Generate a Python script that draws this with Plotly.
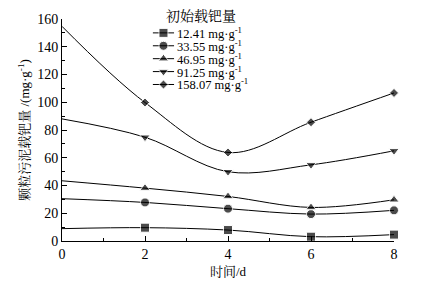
import plotly.graph_objects as go

days = [0, 2, 4, 6, 8]
series_names = ["12.41", "33.55", "46.95", "91.25", "158.07"]
s_12_41 = [8.9, 9.6, 7.9, 3.1, 4.6]
s_33_55 = [30.5, 27.8, 23.3, 19.4, 22.1]
s_46_95 = [43.4, 38.1, 32.1, 24.2, 29.7]
s_91_25 = [88.0, 74.8, 49.9, 54.9, 65.0]
s_158_07 = [154.7, 99.8, 63.8, 85.6, 106.7]
all_series = [s_12_41, s_33_55, s_46_95, s_91_25, s_158_07]
symbols = ["square", "circle", "triangle-up", "triangle-down", "diamond"]
sizes = [9, 9, 9, 9, 7]
legend_title = "初始载钯量"
unit = " mg·g<sup>-1</sup>"

FONT = "'Liberation Serif', 'Noto Serif CJK SC', 'Noto Sans CJK SC', serif"

fig = go.Figure()
for name, vals, sym, sz in zip(series_names, all_series, symbols, sizes):
    fig.add_trace(go.Scatter(
        x=days, y=vals, mode="lines+markers", name=name + unit,
        line=dict(color="black", width=1, shape="spline", smoothing=1),
        marker=dict(symbol=sym, size=[0] + [sz] * (len(days) - 1), color="black"),
        cliponaxis=False, showlegend=False,
    ))

# compact legend drawn inside the plot (key samples placed in axis units)
leg_rows = [150.0, 140.7, 131.4, 122.1, 112.8]
leg_x0, leg_x1 = 2.19, 2.70
for name, sym, sz, yy in zip(series_names, symbols, sizes, leg_rows):
    fig.add_trace(go.Scatter(
        x=[leg_x0, (leg_x0 + leg_x1) / 2, leg_x1], y=[yy, yy, yy], mode="lines+markers",
        showlegend=False, hoverinfo="skip",
        line=dict(color="black", width=1),
        marker=dict(symbol=sym, size=[0, sz, 0], color="black"),
        cliponaxis=False,
    ))
    fig.add_annotation(x=leg_x1 + 0.03, y=yy, xref="x", yref="y", text=name + unit,
                       showarrow=False, xanchor="left", yanchor="middle",
                       font=dict(family=FONT, size=12.5, color="black"))
fig.add_annotation(x=0.419, y=1.013, xref="paper", yref="paper", text=legend_title,
                   showarrow=False, xanchor="center", yanchor="middle",
                   font=dict(family=FONT, size=14, color="black"))

fig.update_layout(
    width=424, height=285,
    margin=dict(l=62, r=30, t=19, b=44),
    paper_bgcolor="white", plot_bgcolor="white",
    font=dict(family=FONT, size=13, color="black"),
    xaxis=dict(range=[0, 8], tickvals=[0, 2, 4, 6, 8], showline=True, linecolor="black",
               linewidth=1, ticks="inside", ticklen=5, tickcolor="black", showgrid=False,
               zeroline=False, automargin=False,
               minor=dict(dtick=1, ticks="inside", ticklen=3, tickcolor="black"),
               title=dict(text="时间/d", font=dict(family=FONT, size=13), standoff=6),
               tickfont=dict(family=FONT, size=14)),
    yaxis=dict(range=[0, 160], dtick=20, showline=True, linecolor="black", linewidth=1,
               ticks="inside", ticklen=5, tickcolor="black", showgrid=False, zeroline=False,
               automargin=False,
               minor=dict(dtick=10, ticks="inside", ticklen=3, tickcolor="black"),
               title=dict(text="颗粒污泥载钯量 /(mg·g<sup>-1</sup>)", font=dict(family=FONT, size=13), standoff=4),
               tickfont=dict(family=FONT, size=14)),
)

fig.write_html("out.html", config={"displayModeBar": False},
               post_script="document.body.style.margin='0';document.body.style.padding='0';")
